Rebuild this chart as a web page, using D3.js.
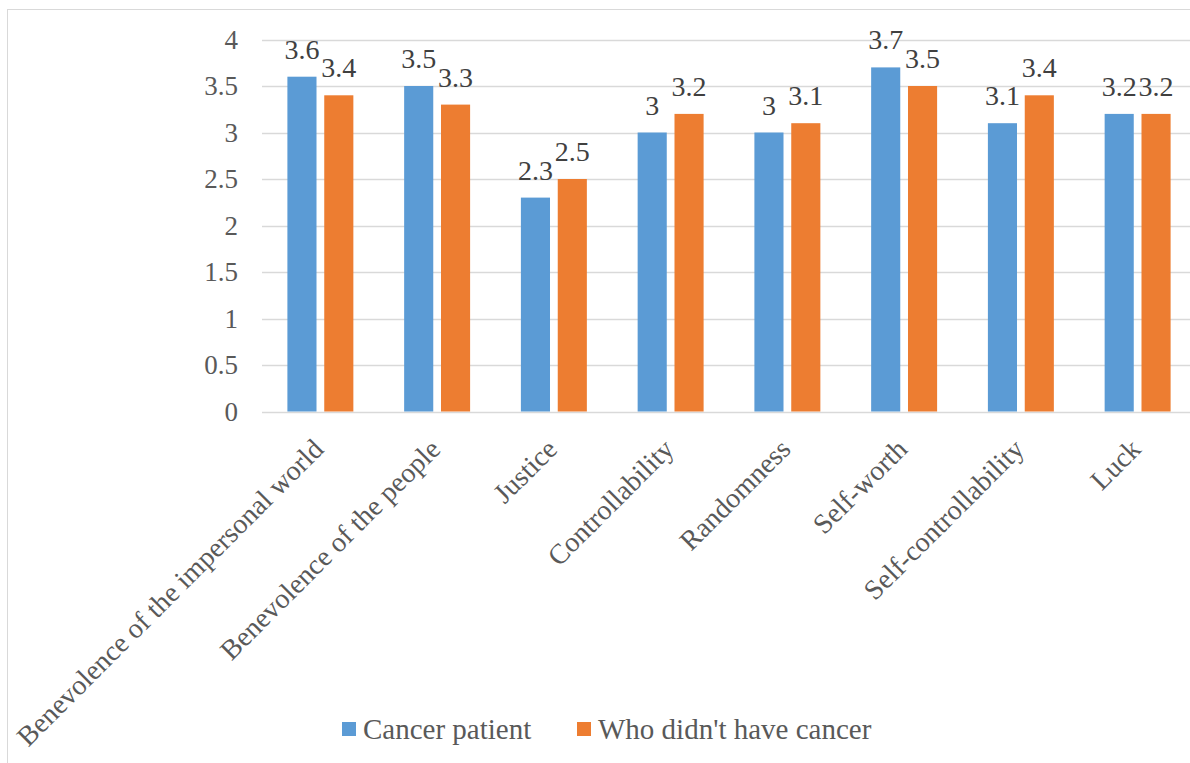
<!DOCTYPE html>
<html>
<head>
<meta charset="utf-8">
<script src="https://cdn.jsdelivr.net/npm/d3@7"></script>
<style>
  body { margin: 0; background: #fff; }
</style>
</head>
<body>
<script>
var width = 1190,
    height = 763;

var serif = "'Liberation Serif', 'Times New Roman', serif";

// data
var categories = ["Benevolence of the impersonal world", "Benevolence of the people", "Justice",
                  "Controllability", "Randomness", "Self-worth", "Self-controllability", "Luck"];
var cancerPatient = [3.6, 3.5, 2.3, 3, 3, 3.7, 3.1, 3.2];
var noCancer = [3.4, 3.3, 2.5, 3.2, 3.1, 3.5, 3.4, 3.2];
var seriesNames = ["Cancer patient", "Who didn't have cancer"];
var colors = ["#5b9bd5", "#ed7d31"];
var yTicks = [0, 0.5, 1, 1.5, 2, 2.5, 3, 3.5, 4];

var margin = {left: 262, top: 39.5, right: -6, bottom: 351.5};

var svg = d3.select("body")
      .append("svg")
      .attr("width", width)
      .attr("height", height)
      .style("font-family", serif);

// chart frame
svg.append("rect")
    .attr("x", 7.5).attr("y", 9.5)
    .attr("width", width + 20).attr("height", height + 20)
    .style("fill", "none")
    .style("stroke", "#d9d9d9")
    .style("stroke-width", 1);

var x0 = d3.scaleBand()
    .domain(categories)
    .range([margin.left, width - margin.right])
    .paddingInner(0.435)
    .paddingOuter(0.2175);

var x1 = d3.scaleBand()
    .domain([0, 1])
    .range([0, x0.bandwidth()])
    .paddingInner(0.21);

var y = d3.scaleLinear()
    .domain([0, 4])
    .range([height - margin.bottom, margin.top]);

// gridlines
svg.append("g")
    .selectAll("line")
    .data(yTicks)
    .enter().append("line")
      .attr("x1", margin.left)
      .attr("x2", width)
      .attr("y1", function(d) { return Math.round(y(d)) + 0.5; })
      .attr("y2", function(d) { return Math.round(y(d)) + 0.5; })
      .style("stroke", "#d9d9d9")
      .style("stroke-width", 1.5);

// y tick labels
svg.append("g")
    .selectAll("text")
    .data(yTicks)
    .enter().append("text")
      .attr("x", 238)
      .attr("y", function(d) { return y(d); })
      .attr("dy", "0.34em")
      .attr("text-anchor", "end")
      .style("font-size", "27px")
      .style("fill", "#595959")
      .text(function(d) { return d; });

var series = [cancerPatient, noCancer];

series.forEach(function(vals, s) {
    var g = svg.append("g");
    g.selectAll("rect")
        .data(vals)
        .enter().append("rect")
          .attr("x", function(d, i) { return x0(categories[i]) + x1(s); })
          .attr("y", function(d) { return y(d); })
          .attr("width", x1.bandwidth())
          .attr("height", function(d) { return y(0) - y(d); })
          .style("fill", colors[s]);

    g.selectAll("text")
        .data(vals)
        .enter().append("text")
          .attr("x", function(d, i) { return x0(categories[i]) + x1(s) + x1.bandwidth() / 2; })
          .attr("y", function(d) { return y(d) - 18; })
          .attr("text-anchor", "middle")
          .style("font-size", "28px")
          .style("fill", "#404040")
          .text(function(d) { return d; });
});

// rotated category labels
svg.append("g")
    .selectAll("text")
    .data(categories)
    .enter().append("text")
      .attr("transform", function(d) {
          return "translate(" + (x0(d) + x0.bandwidth() / 2 - 9) + "," + 437 + ") rotate(-45)";
      })
      .attr("dy", "0.7em")
      .attr("text-anchor", "end")
      .style("font-size", "28px")
      .style("fill", "#595959")
      .text(function(d) { return d; });

// legend
var legendX = [342, 577];
var legend = svg.append("g");
seriesNames.forEach(function(name, s) {
    legend.append("rect")
        .attr("x", legendX[s]).attr("y", 722)
        .attr("width", 14).attr("height", 14)
        .style("fill", colors[s]);
    legend.append("text")
        .attr("x", legendX[s] + 21).attr("y", 729)
        .attr("dy", "0.35em")
        .style("font-size", "29px")
        .style("fill", "#595959")
        .text(name);
});
</script>
</body>
</html>
